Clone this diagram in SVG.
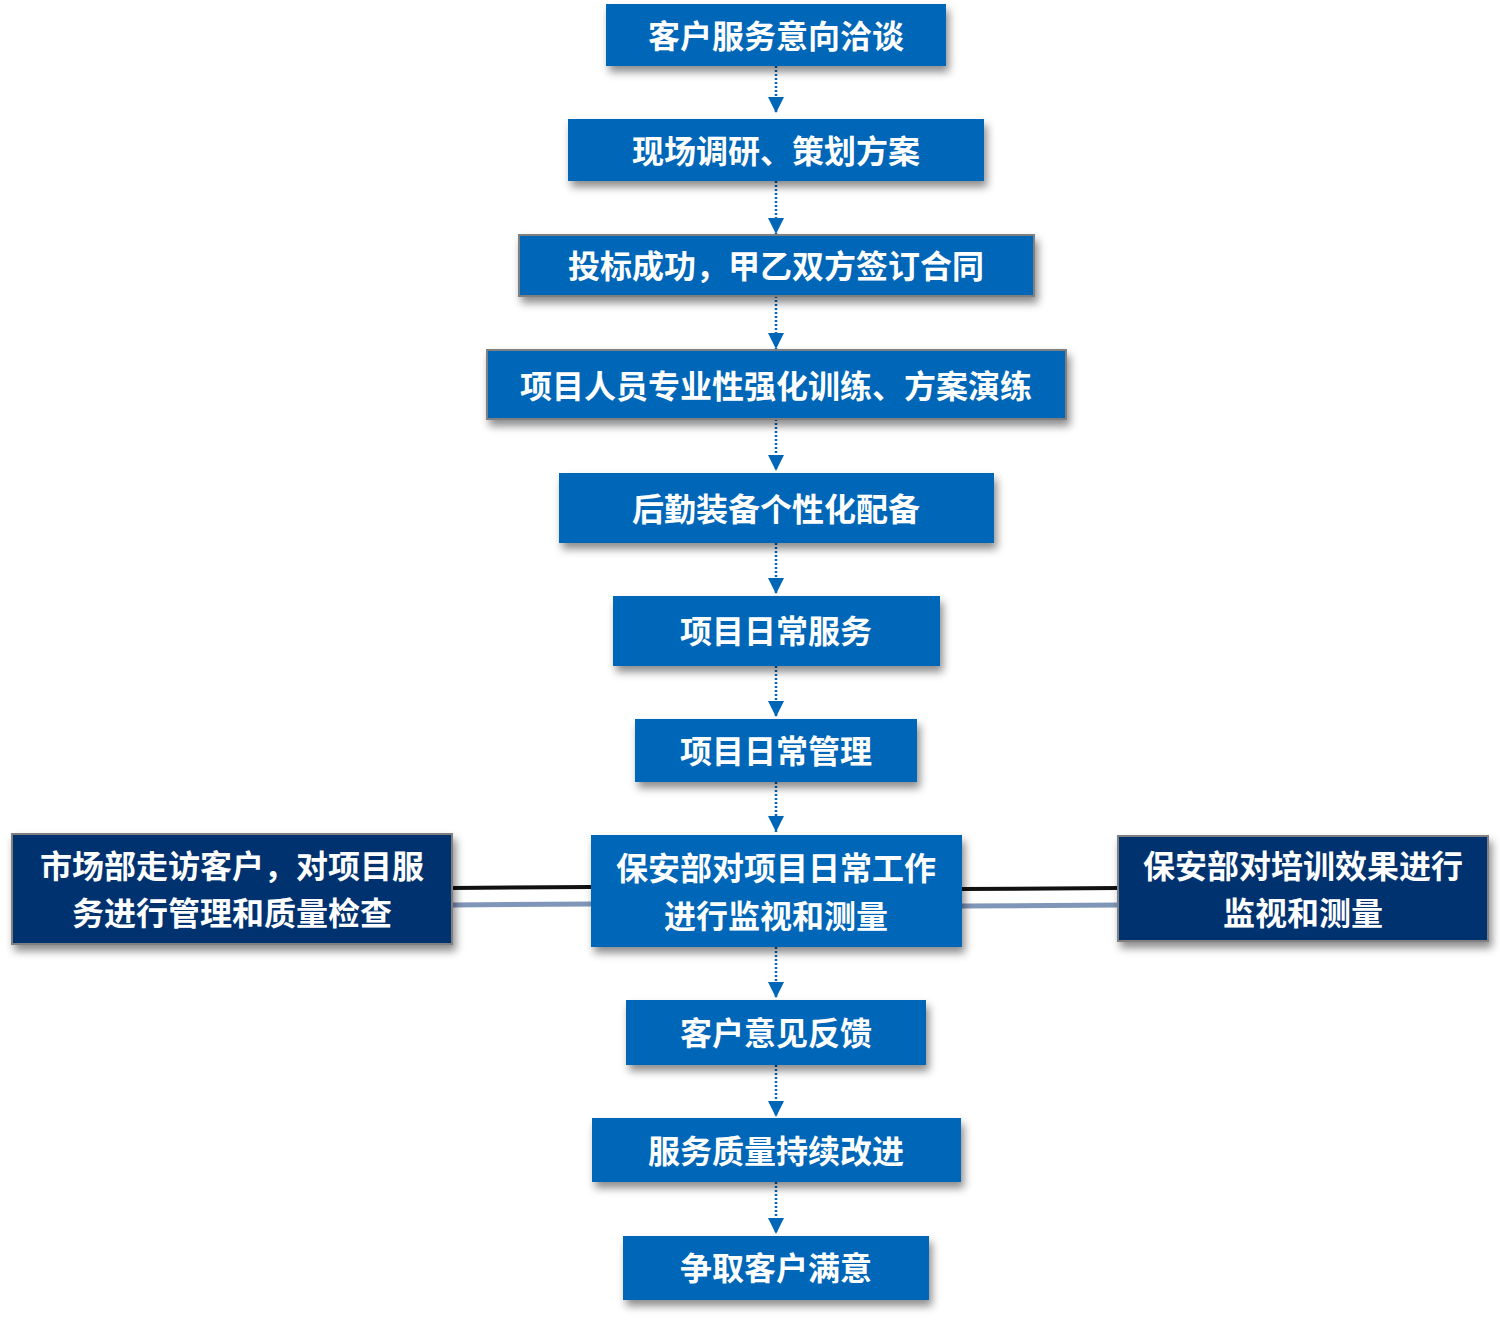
<svg xmlns="http://www.w3.org/2000/svg" width="1500" height="1328" viewBox="0 0 1500 1328">
<defs>
<filter id="sh" x="-10%" y="-20%" width="120%" height="150%">
<feDropShadow dx="3" dy="6" stdDeviation="4" flood-color="#000" flood-opacity="0.45"/>
</filter>
<marker id="ah" viewBox="0 0 16 16" markerWidth="16" markerHeight="16" refX="16" refY="8" orient="auto" markerUnits="userSpaceOnUse">
<path d="M0,0 L16,8 L0,16 Z" fill="#0066B8"/>
</marker>
</defs>
<style>
.b{fill:#0066B8;filter:url(#sh);}
.bg{fill:#0066B8;stroke:#808080;stroke-width:2;filter:url(#sh);}
.n{fill:#003070;stroke:#808080;stroke-width:2;filter:url(#sh);}
.t{font-family:"Noto Sans CJK SC","Noto Sans",sans-serif;font-weight:bold;font-size:32px;fill:#fff;text-anchor:middle;dominant-baseline:central;}
.d{stroke:#0066B8;stroke-width:2.5;stroke-dasharray:2 2;fill:none;}
</style>
<g id="connectors">
<line class="d" x1="776" y1="66" x2="776" y2="113" marker-end="url(#ah)"/>
<line class="d" x1="776" y1="181" x2="776" y2="234" marker-end="url(#ah)"/>
<line class="d" x1="776" y1="296" x2="776" y2="349" marker-end="url(#ah)"/>
<line class="d" x1="776" y1="419" x2="776" y2="471" marker-end="url(#ah)"/>
<line class="d" x1="776" y1="543" x2="776" y2="594" marker-end="url(#ah)"/>
<line class="d" x1="776" y1="666" x2="776" y2="717" marker-end="url(#ah)"/>
<line class="d" x1="776" y1="782" x2="776" y2="832" marker-end="url(#ah)"/>
<line class="d" x1="776" y1="947" x2="776" y2="998" marker-end="url(#ah)"/>
<line class="d" x1="776" y1="1065" x2="776" y2="1117" marker-end="url(#ah)"/>
<line class="d" x1="776" y1="1182" x2="776" y2="1234" marker-end="url(#ah)"/>
<line x1="452" y1="888" x2="591" y2="887" stroke="#111" stroke-width="4"/>
<line x1="452" y1="905" x2="591" y2="904" stroke="#8096B8" stroke-width="5"/>
<line x1="962" y1="889" x2="1118" y2="888" stroke="#111" stroke-width="4"/>
<line x1="962" y1="906" x2="1118" y2="905" stroke="#8096B8" stroke-width="5"/>
</g>
<g id="n1"><rect class="b" x="606" y="4" width="340" height="62"/><text class="t" x="776" y="34">客户服务意向洽谈</text></g>
<g id="n2"><rect class="b" x="568" y="119" width="416" height="62"/><text class="t" x="776" y="149">现场调研、策划方案</text></g>
<g id="n3"><rect class="bg" x="519" y="235" width="515" height="61"/><text class="t" x="776" y="264">投标成功，甲乙双方签订合同</text></g>
<g id="n4"><rect class="bg" x="487" y="350" width="579" height="69"/><text class="t" x="776" y="384">项目人员专业性强化训练、方案演练</text></g>
<g id="n5"><rect class="b" x="559" y="473" width="435" height="70"/><text class="t" x="776" y="507">后勤装备个性化配备</text></g>
<g id="n6"><rect class="b" x="613" y="596" width="327" height="70"/><text class="t" x="776" y="629">项目日常服务</text></g>
<g id="n7"><rect class="b" x="635" y="719" width="282" height="63"/><text class="t" x="776" y="749">项目日常管理</text></g>
<g id="n8"><rect class="b" x="591" y="835" width="371" height="112"/><text class="t" x="776" y="866">保安部对项目日常工作</text><text class="t" x="776" y="914">进行监视和测量</text></g>
<g id="nl"><rect class="n" x="12" y="834" width="440" height="110"/><text class="t" x="232" y="864">市场部走访客户，对项目服</text><text class="t" x="232" y="911">务进行管理和质量检查</text></g>
<g id="nr"><rect class="n" x="1118" y="836" width="370" height="105"/><text class="t" x="1303" y="864">保安部对培训效果进行</text><text class="t" x="1303" y="911">监视和测量</text></g>
<g id="n9"><rect class="b" x="626" y="1000" width="300" height="65"/><text class="t" x="776" y="1031">客户意见反馈</text></g>
<g id="n10"><rect class="b" x="592" y="1118" width="369" height="64"/><text class="t" x="776" y="1149">服务质量持续改进</text></g>
<g id="n11"><rect class="b" x="623" y="1236" width="306" height="64"/><text class="t" x="776" y="1266">争取客户满意</text></g>
</svg>
